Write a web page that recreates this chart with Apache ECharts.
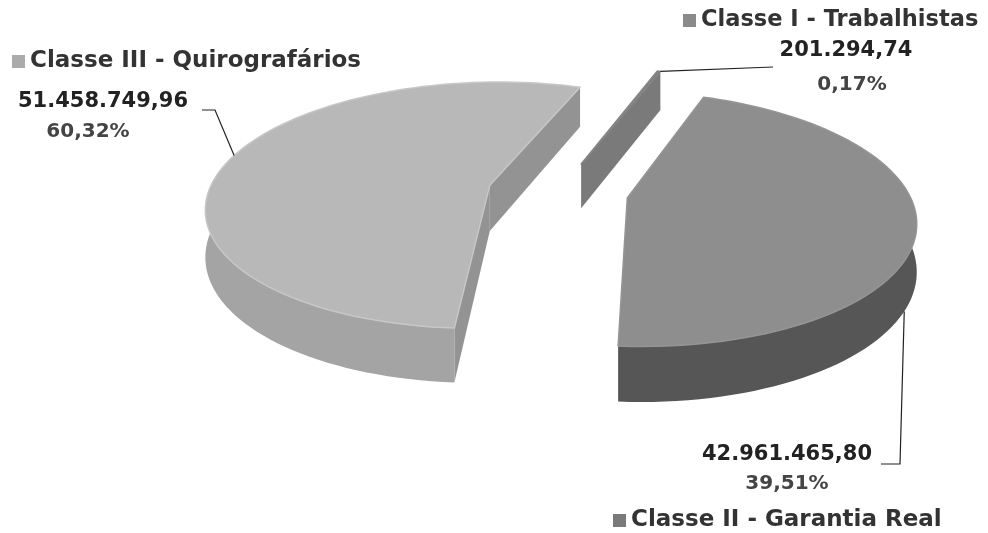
<!DOCTYPE html>
<html lang="pt-BR">
<head>
    <meta charset="UTF-8">
    <title>Classes de credores</title>
    <script src="https://cdn.jsdelivr.net/npm/echarts@6/dist/echarts.min.js"></script>
    <style>
        html, body { margin: 0; padding: 0; background: #fff; }
        #main { width: 988px; height: 533px; }
    </style>
</head>
<body>
<div id="main"></div>
<script>
    // dados (ordem horaria a partir do topo)
    var categories = ['Classe I - Trabalhistas', 'Classe II - Garantia Real', 'Classe III - Quirografários'];
    var values = [201294.74, 42961465.80, 51458749.96];
    var percents = [0.17, 39.51, 60.32];

    // cores: topo, borda do topo, parede, corte, legenda
    var topColors = ['#7e7e7e', '#8e8e8e', '#b8b8b8'];
    var edgeColors = ['#858585', '#959595', '#c7c7c7'];
    var wallColors = ['#6c6c6c', '#565656', '#a4a4a4'];
    var cutColors = ['#7a7a7a', '#747474', '#939393'];
    var legendColors = ['#8a8a8a', '#7a7a7a', '#ababab'];

    // geometria da pizza 3D (com leve perspectiva)
    var CX = 558, CY = 191.5, RX = 281, RY = 122, H = 46, EXPLODE = 0.25, PERSP = 0.163;
    var START = 289.63;

    // angulos de cada fatia (proporcionais aos valores)
    var total = values.reduce(function (a, b) { return a + b; }, 0);
    var angles = [];
    var acc = START;
    for (var i = 0; i < values.length; i++) {
        var span = values[i] / total * 360;
        angles.push([acc, acc + span]);
        acc += span;
    }

    // posicoes dos rotulos (valor, percentual, guia)
    var labelLayout = [
        {val: [846, 51], pct: [852, 85], guide: [[773, 67]], anchor: 'end', low: false},
        {val: [787, 455], pct: [787, 484], guide: [[881, 464], [900, 464]], anchor: 28, low: true},
        {val: [103, 102], pct: [88, 132], guide: [[202, 110], [215, 110]], anchor: 195, low: false}
    ];
    var legendLayout = [
        {left: 683, top: 9, size: 22.5},
        {left: 613, top: 509, size: 23},
        {left: 12, top: 50, size: 23}
    ];

    function fmtBR(v) {
        var s = v.toFixed(2).split('.');
        return s[0].replace(/\B(?=(\d{3})+(?!\d))/g, '.') + ',' + s[1];
    }
    function fmtPct(p) {
        return p.toFixed(2).replace('.', ',') + '%';
    }

    var rad = Math.PI / 180;
    // ponto do disco (X, Z em unidades de raio, Z > 0 = frente) -> tela
    function proj(X, Z, h) {
        var s = 1 / (1 - PERSP * Z);
        return [CX + RX * X * s, CY + (RY * Z + (h || 0)) * s];
    }
    function pt(c, deg, h) {
        return proj(c[0] + Math.cos(deg * rad), c[1] + Math.sin(deg * rad), h);
    }
    function arc(c, a0, a1, h) {
        var n = Math.max(2, Math.ceil(Math.abs(a1 - a0) / 2));
        var pts = [];
        for (var k = 0; k <= n; k++) pts.push(pt(c, a0 + (a1 - a0) * k / n, h));
        return pts;
    }

    function makeRender(idx) {
        return function (params, api) {
            var a0 = angles[idx][0], a1 = angles[idx][1];
            var mid = (a0 + a1) / 2;
            var c = [EXPLODE * Math.cos(mid * rad), EXPLODE * Math.sin(mid * rad)];
            var cTop = proj(c[0], c[1], 0), cBot = proj(c[0], c[1], H);
            var children = [];

            // faces de corte
            [[a0, a0 - 90], [a1, a1 + 90]].forEach(function (f) {
                if (Math.sin(f[1] * rad) > 0) {
                    children.push({
                        type: 'polygon',
                        shape: {points: [cTop, pt(c, f[0], 0), pt(c, f[0], H), cBot]},
                        style: {fill: cutColors[idx]}
                    });
                }
            });

            // parede externa (parte frontal, um pouco alem das laterais por causa da perspectiva)
            for (var k = 0; k <= 2; k++) {
                var s = Math.max(a0, 360 * k - 15), e = Math.min(a1, 360 * k + 195);
                if (e > s) {
                    children.push({
                        type: 'polygon',
                        shape: {points: arc(c, s, e, 0).concat(arc(c, e, s, H))},
                        style: {fill: wallColors[idx]}
                    });
                }
            }

            // topo
            children.push({
                type: 'polygon',
                shape: {points: [cTop].concat(arc(c, a0, a1, 0))},
                style: {fill: topColors[idx], stroke: edgeColors[idx], lineWidth: 1.5, lineJoin: 'round'}
            });

            // rotulos
            var lay = labelLayout[idx];
            var anc = lay.anchor === 'end' ? pt(c, a1, 0) : pt(c, lay.anchor, lay.low ? H : 0);
            children.push({
                type: 'polyline',
                shape: {points: lay.guide.concat([anc])},
                style: {stroke: '#222', lineWidth: 1.2, fill: null}
            });
            children.push({
                type: 'text',
                style: {
                    text: fmtBR(api.value(0)), x: lay.val[0], y: lay.val[1],
                    align: 'center', verticalAlign: 'middle',
                    fill: '#222', fontSize: 21, fontWeight: 'bold', fontFamily: 'DejaVu Sans'
                }
            });
            children.push({
                type: 'text',
                style: {
                    text: fmtPct(api.value(1)), x: lay.pct[0], y: lay.pct[1],
                    align: 'center', verticalAlign: 'middle',
                    fill: '#444', fontSize: 20, fontWeight: 'bold', fontFamily: 'DejaVu Sans'
                }
            });
            return {type: 'group', children: children};
        };
    }

    var series = categories.map(function (name, i) {
        return {
            name: name,
            type: 'custom',
            coordinateSystem: 'none',
            z: i === 0 ? 1 : 2,
            itemStyle: {color: legendColors[i]},
            renderItem: makeRender(i),
            data: [[values[i], percents[i]]],
            silent: true
        };
    });

    var legends = categories.map(function (name, i) {
        var l = legendLayout[i];
        return {
            data: [{name: name, itemStyle: {color: legendColors[i]}}],
            left: l.left, top: l.top,
            padding: 0,
            icon: 'rect', itemWidth: 13, itemHeight: 13,
            selectedMode: false,
            textStyle: {fontSize: l.size, fontWeight: 'bold', fontFamily: 'DejaVu Sans', color: '#333'}
        };
    });

    var myChart = echarts.init(document.getElementById('main'));
    var option = {
        backgroundColor: '#fff',
        animation: false,
        legend: legends,
        series: series
    };
    myChart.setOption(option);
</script>
</body>
</html>
